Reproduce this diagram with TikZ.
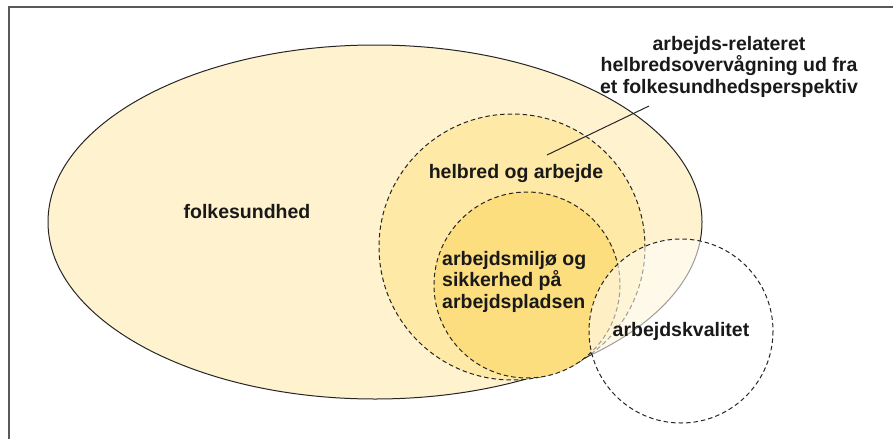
\documentclass[tikz,border=0pt]{standalone}
\usepackage{fontspec}
\setmainfont{Liberation Sans}
\begin{document}
\begin{tikzpicture}[x=1pt,y=-1pt,
  dashline/.style={dash pattern=on 4.5pt off 3pt, line width=1pt, draw=black!85},
  lbl/.style={font=\fontsize{19.5}{21.5}\selectfont\bfseries, text=black!90, inner sep=0pt},
  frameline/.style={draw=black!65, line width=1.6pt}]
\definecolor{folkfill}{RGB}{255,242,207}
\definecolor{helfill}{RGB}{254,233,166}
\definecolor{milfill}{RGB}{253,222,126}
\useasboundingbox (0,0) rectangle (893,439);
% frame
\coordinate (fTL) at (9,7);
\coordinate (fTR) at (893,7);
\coordinate (fBL) at (9,439);
\draw[frameline] (fTR) -- (fTL) -- (fBL);
% shapes
\fill[folkfill] (375,222) ellipse [x radius=327, y radius=177];
\draw[line width=1pt, black!85] (375,222) ellipse [x radius=327, y radius=177];
\fill[helfill] (512,247) circle [radius=133];
\draw[dashline] (512,247) circle [radius=133];
\fill[milfill] (527,285) circle [radius=93];
\draw[dashline] (527,285) circle [radius=93];
\fill[white, opacity=0.55] (681,331) circle [radius=92];
\draw[dashline] (681,331) circle [radius=92];
% labels
\node[lbl] (folk) at (247,212) {folkesundhed};
\node[lbl] (hel) at (516,173) {helbred og arbejde};
\node[lbl, align=left, anchor=north west] (mil) at (442,251) {arbejdsmiljø og\\sikkerhed på\\arbejdspladsen};
\node[lbl] (kval) at (681,331) {arbejdskvalitet};
\node[lbl, align=center, anchor=north] (top) at (729,36) {arbejds-relateret\\helbredsovervågning ud fra\\et folkesundhedsperspektiv};
% leader
\coordinate (leadA) at (649,106);
\coordinate (leadB) at (547,155);
\draw[line width=1pt, black!85] (leadA) -- (leadB);
\end{tikzpicture}
\end{document}
